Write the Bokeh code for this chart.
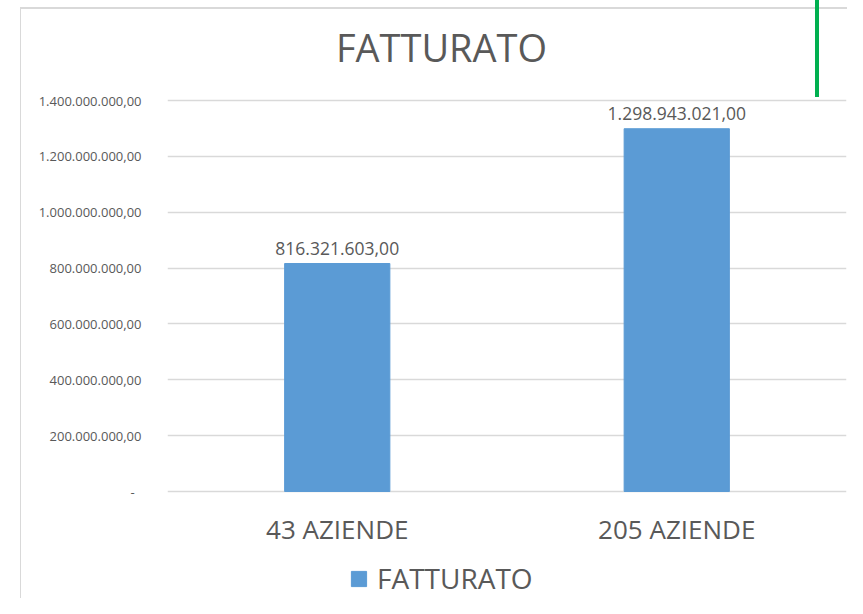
from bokeh.plotting import figure
from bokeh.models import (ColumnDataSource, FactorRange, Range1d, LabelSet, Label, Legend, LegendItem,
                          CustomJSTickFormatter, FixedTicker, InlineStyleSheet)
from bokeh.core.properties import value
from bokeh.embed import file_html
from bokeh.resources import INLINE

categories = ["43 AZIENDE", "205 AZIENDE"]
fatturato = [816321603.00, 1298943021.00]
y_ticks = [0, 200000000, 400000000, 600000000, 800000000, 1000000000, 1200000000, 1400000000]
series_name = "FATTURATO"
title_text = "FATTURATO"


def it_fmt(v):
    s = f"{v:,.2f}"
    return s.replace(",", "X").replace(".", ",").replace("X", ".")


src = ColumnDataSource(dict(cat=categories, val=fatturato, base=[0] * len(categories),
                            lab=[it_fmt(v) for v in fatturato]))

FONT = "Open Sans"
TXT = "#595959"

W, H = 847, 598
LEFT = 167                     # frame left in pixels
TOP_Y = 100                    # pixel row of the top tick
AXIS_Y = 491                   # pixel row of the value 0
YMAX = y_ticks[-1]
# the frame fills the figure's height; the value range is stretched so the ticks sit at the right rows
scale = YMAX / (AXIS_Y - TOP_Y)
y_start = -scale * (H - AXIS_Y)
y_end = scale * AXIS_Y

p = figure(width=W, height=H, output_backend="svg", toolbar_location=None,
           x_range=FactorRange(factors=categories, range_padding=0),
           y_range=Range1d(y_start, y_end),
           min_border_left=LEFT, min_border_right=1, min_border_top=0, min_border_bottom=0)

r = p.vbar(x="cat", top="val", bottom=0, width=0.31, source=src, color="#5b9bd5")

labels = LabelSet(x="cat", y="val", text="lab", source=src, text_align="center",
                  text_baseline="bottom", y_offset=9, text_font=value(FONT),
                  text_font_size="17.5px", text_color=TXT)
p.add_layout(labels)

# category labels under the baseline
p.text(x="cat", y="base", text="cat", source=src, text_align="center", text_baseline="middle",
       y_offset=37, text_font=value(FONT), text_font_size="26px", text_color=TXT)

# chart title
p.add_layout(Label(x=441 - LEFT, y=H - 46, x_units="screen", y_units="screen", text=title_text,
                   text_align="center", text_baseline="middle", text_font=FONT,
                   text_font_size="38px", text_color=TXT))

p.outline_line_color = None
p.xgrid.grid_line_color = None
p.ygrid.grid_line_color = "#d9d9d9"
p.ygrid.grid_line_width = 1.3
p.ygrid.ticker = FixedTicker(ticks=y_ticks)

p.yaxis.ticker = FixedTicker(ticks=y_ticks)
p.yaxis.formatter = CustomJSTickFormatter(code="""
if (tick == 0) return "-\\u00a0\\u00a0";
const parts = tick.toFixed(2).split(".");
return parts[0].replace(/\\B(?=(\\d{3})+(?!\\d))/g, ".") + "," + parts[1];
""")
p.yaxis.axis_line_color = None
p.yaxis.major_tick_line_color = None
p.yaxis.minor_tick_line_color = None
p.yaxis.major_tick_out = 0
p.yaxis.major_tick_in = 0
p.yaxis.major_label_standoff = 26
p.yaxis.major_label_text_font = FONT
p.yaxis.major_label_text_font_size = "13px"
p.yaxis.major_label_text_color = TXT

p.xaxis.visible = False

legend = Legend(items=[LegendItem(label=series_name, renderers=[r])],
                location=(182, 1), orientation="horizontal",
                glyph_width=19, glyph_height=19, label_standoff=9,
                padding=0, margin=0, border_line_color=None, background_fill_alpha=0,
                label_text_font=FONT, label_text_font_size="28px", label_text_color=TXT)
p.add_layout(legend, "center")

p.stylesheets = [InlineStyleSheet(css="""
:host { position: relative; }
:host::before { content: ''; position: absolute; left: 20px; top: 7px; right: 0; bottom: 0;
  border-left: 1px solid #d9d9d9; border-top: 2px solid #d9d9d9; pointer-events: none; z-index: 5; }
:host::after { content: ''; position: absolute; left: 815px; top: 0; width: 4px; height: 97px;
  background: #00b050; pointer-events: none; z-index: 6; }
""")]

open("out.html", "w").write(file_html(p, INLINE))
